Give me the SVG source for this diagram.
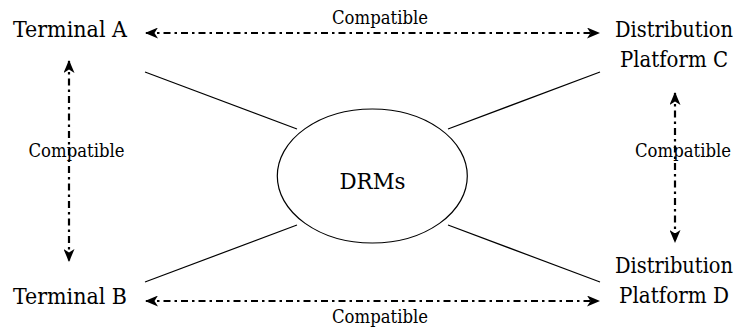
<svg xmlns="http://www.w3.org/2000/svg" width="738" height="333" viewBox="0 0 738 333">
  <style>
    .big, .small { font-family: "DejaVu Serif Condensed", "DejaVu Serif", serif; font-stretch: condensed; fill: #000; }
    .big { font-size: 22.4px; }
    .small { font-size: 18.6px; }
    .link { stroke: #000; stroke-width: 1.2; fill: none; }
    .compat { stroke: #000; stroke-width: 2.2; fill: none; stroke-dasharray: 7 4 2.5 4; }
  </style>
  <defs>
    <marker id="arrow" viewBox="0 0 13 11" refX="12" refY="5.5" markerWidth="13" markerHeight="11" markerUnits="userSpaceOnUse" orient="auto-start-reverse">
      <path d="M0,0 L13,5.5 L0,11 L3.5,5.5 z" fill="#000"/>
    </marker>
  </defs>

  <rect width="738" height="333" fill="#fff"/>

  <g id="connectors">
    <!-- solid links from each party to the DRM core -->
    <line class="link" x1="145" y1="72" x2="297" y2="129"/>
    <line class="link" x1="600" y1="72" x2="448" y2="129"/>
    <line class="link" x1="145" y1="282" x2="297" y2="225"/>
    <line class="link" x1="600" y1="282" x2="448" y2="225"/>
    <!-- compatibility relations -->
    <line class="compat" x1="146" y1="33" x2="599" y2="33" marker-start="url(#arrow)" marker-end="url(#arrow)"/>
    <line class="compat" x1="146" y1="301" x2="599" y2="301" marker-start="url(#arrow)" marker-end="url(#arrow)"/>
    <line class="compat" x1="69" y1="61" x2="69" y2="261" marker-start="url(#arrow)" marker-end="url(#arrow)"/>
    <line class="compat" x1="675" y1="93" x2="675" y2="242" marker-start="url(#arrow)" marker-end="url(#arrow)"/>
    <text class="small" x="380" y="24" text-anchor="middle" textLength="96" lengthAdjust="spacingAndGlyphs">Compatible</text>
    <text class="small" x="380" y="323" text-anchor="middle" textLength="96" lengthAdjust="spacingAndGlyphs">Compatible</text>
    <text class="small" x="76.5" y="157" text-anchor="middle" textLength="96" lengthAdjust="spacingAndGlyphs">Compatible</text>
    <text class="small" x="683" y="157" text-anchor="middle" textLength="96" lengthAdjust="spacingAndGlyphs">Compatible</text>
  </g>

  <g id="drms">
    <ellipse cx="372.3" cy="176" rx="95" ry="67" fill="#fff" stroke="#000" stroke-width="1.2"/>
    <text class="big" x="372.5" y="189" text-anchor="middle" textLength="66" lengthAdjust="spacingAndGlyphs">DRMs</text>
  </g>

  <g id="terminal-a">
    <text class="big" x="13" y="37" textLength="114" lengthAdjust="spacingAndGlyphs">Terminal A</text>
  </g>

  <g id="terminal-b">
    <text class="big" x="13" y="304" textLength="114" lengthAdjust="spacingAndGlyphs">Terminal B</text>
  </g>

  <g id="platform-c">
    <text class="big" x="674" y="37" text-anchor="middle" textLength="118" lengthAdjust="spacingAndGlyphs">Distribution</text>
    <text class="big" x="674" y="67" text-anchor="middle" textLength="108" lengthAdjust="spacingAndGlyphs">Platform C</text>
  </g>

  <g id="platform-d">
    <text class="big" x="674" y="273" text-anchor="middle" textLength="118" lengthAdjust="spacingAndGlyphs">Distribution</text>
    <text class="big" x="674" y="303" text-anchor="middle" textLength="110" lengthAdjust="spacingAndGlyphs">Platform D</text>
  </g>
</svg>
